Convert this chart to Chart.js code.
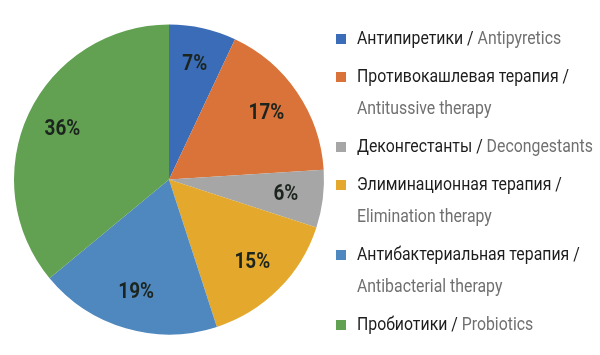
<!DOCTYPE html>
<html><head><meta charset="utf-8">
<script src="https://cdn.jsdelivr.net/npm/chart.js@4"></script>
<style>html,body{margin:0;padding:0;background:#fff}#wrap{width:600px;height:355px;position:relative}</style>
</head><body><div id="wrap"><canvas id="c" width="600" height="355"></canvas></div>
<script>
const ruLabels = ['Антипиретики', 'Противокашлевая терапия', 'Деконгестанты', 'Элиминационная терапия', 'Антибактериальная терапия', 'Пробиотики'];
const enLabels = ['Antipyretics', 'Antitussive therapy', 'Decongestants', 'Elimination therapy', 'Antibacterial therapy', 'Probiotics'];
const shares = [7, 17, 6, 15, 19, 36];
const colors = ['#3A6CB7', '#D9733A', '#A6A6A6', '#E4A92C', '#4F88BF', '#62A152'];

const FONT = '"Liberation Sans Narrow", "Arial Narrow", "Roboto", sans-serif';

function narrowText(ctx, text, x, y, sx) {
  ctx.save();
  ctx.translate(x, y);
  ctx.scale(sx, 1);
  ctx.fillText(text, 0, 0);
  ctx.restore();
}

const sliceLabels = {
  id: 'sliceLabels',
  afterDatasetsDraw(chart) {
    const ctx = chart.ctx;
    const meta = chart.getDatasetMeta(0);
    ctx.save();
    ctx.font = 'bold 22px ' + FONT;
    ctx.fillStyle = '#1c241e';
    ctx.textAlign = 'center';
    ctx.textBaseline = 'middle';
    meta.data.forEach((arc, i) => {
      const p = arc.getProps(['x', 'y', 'startAngle', 'endAngle', 'outerRadius'], true);
      const a = (p.startAngle + p.endAngle) / 2;
      const r = p.outerRadius * 0.76;
      narrowText(ctx, shares[i] + '%', p.x + Math.cos(a) * r, p.y + Math.sin(a) * r, 0.86);
    });
    ctx.restore();
  }
};

const sideLegend = {
  id: 'sideLegend',
  afterDraw(chart) {
    const ctx = chart.ctx;
    const sx = 0.88;
    ctx.save();
    ctx.font = '18px ' + FONT;
    ctx.textBaseline = 'middle';
    ctx.textAlign = 'left';
    const xBox = 336, xText = 357, maxW = 240;
    let y = 39;
    ruLabels.forEach((ru, i) => {
      const en = enLabels[i];
      ctx.fillStyle = colors[i];
      ctx.fillRect(xBox, y - 5, 10, 10);
      const first = ru + ' / ';
      const full = first + en;
      ctx.fillStyle = '#1d1d1d';
      if (ctx.measureText(full).width * sx <= maxW) {
        narrowText(ctx, first, xText, y, sx);
        const w = ctx.measureText(first).width * sx;
        ctx.fillStyle = '#707070';
        narrowText(ctx, en, xText + w, y, sx);
        y += 38;
      } else {
        narrowText(ctx, ru + ' /', xText, y, sx);
        y += 32;
        ctx.fillStyle = '#707070';
        narrowText(ctx, en, xText, y, sx);
        y += 38;
      }
    });
    ctx.restore();
  }
};

new Chart(document.getElementById('c'), {
  type: 'pie',
  data: {
    labels: ruLabels.map((r, i) => r + ' / ' + enLabels[i]),
    datasets: [{ data: shares, backgroundColor: colors, borderWidth: 0 }]
  },
  options: {
    responsive: false,
    animation: false,
    layout: { padding: { left: 14, right: 276, top: 24, bottom: 20 } },
    plugins: { legend: { display: false }, tooltip: { enabled: false } }
  },
  plugins: [sliceLabels, sideLegend]
});
</script></body></html>
